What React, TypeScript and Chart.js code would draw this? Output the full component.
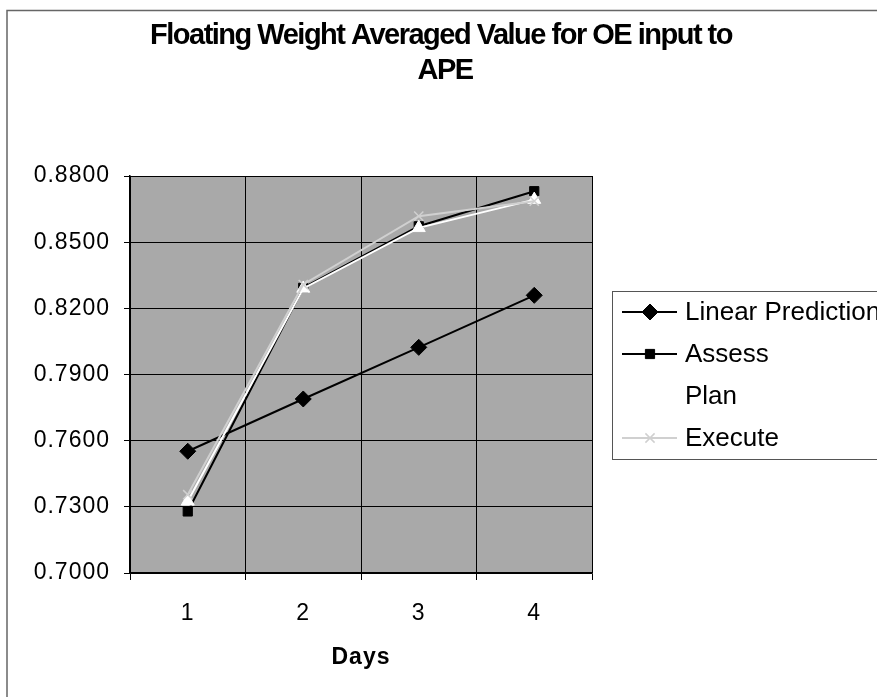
import React, { useEffect, useRef } from "react";
import { Chart, registerables } from "chart.js";
import { drawPoint } from "chart.js/helpers";

Chart.register(...registerables);

// Category labels and series values
const days = ["1", "2", "3", "4"];
const linearPrediction = [0.7552, 0.7789, 0.8023, 0.8259];
const assess = [0.7279, 0.8293, 0.8572, 0.8731];
const plan = [0.7325, 0.829, 0.8565, 0.8693];
const execute = [0.7355, 0.8308, 0.8618, 0.8686];

// Axis range and text
const yMin = 0.7;
const yMax = 0.88;
const yStep = 0.03;
const titleLines = ["Floating Weight Averaged Value for OE input to", "APE"];
const xTitle = "Days";

const FONT = "'Liberation Sans', Arial, sans-serif";
const PLOT_BG = "#a9a9a9";
const W = 877;
const H = 697;

const decor = {
  id: "decor",
  beforeDraw(chart: any) {
    const { ctx, chartArea: a } = chart;
    ctx.save();
    ctx.fillStyle = "#ffffff";
    ctx.fillRect(0, 0, chart.width, chart.height);
    ctx.fillStyle = PLOT_BG;
    ctx.fillRect(a.left, a.top, a.right - a.left, a.bottom - a.top);
    ctx.restore();
    // axis text is drawn slightly wide
    ctx.letterSpacing = "1px";
  },
  afterDraw(chart: any) {
    const ctx = chart.ctx;
    ctx.save();
    ctx.letterSpacing = "0px";

    // outer chart frame (left and top edges)
    ctx.strokeStyle = "#666666";
    ctx.lineWidth = 1.5;
    ctx.beginPath();
    ctx.moveTo(7, H);
    ctx.lineTo(7, 10.5);
    ctx.lineTo(W, 10.5);
    ctx.stroke();

    // title
    ctx.fillStyle = "#000000";
    ctx.font = `bold 29px ${FONT}`;
    ctx.letterSpacing = "-1.5px";
    ctx.textAlign = "center";
    ctx.textBaseline = "middle";
    ctx.fillText(titleLines[0], 441, 36);
    ctx.fillText(titleLines[1], 445, 71);

    // legend box
    const boxL = 612.5;
    const boxT = 291.5;
    const boxB = 459.5;
    ctx.fillStyle = "#ffffff";
    ctx.fillRect(boxL, boxT, W - boxL + 10, boxB - boxT);
    ctx.strokeStyle = "#555555";
    ctx.lineWidth = 1;
    ctx.strokeRect(boxL, boxT, W - boxL + 20, boxB - boxT);

    const datasets = chart.data.datasets;
    ctx.font = `26px ${FONT}`;
    ctx.letterSpacing = "0px";
    ctx.textAlign = "left";
    datasets.forEach((ds: any, i: number) => {
      const y = 312 + i * 42;
      ctx.strokeStyle = ds.borderColor;
      ctx.lineWidth = ds.borderWidth;
      ctx.beginPath();
      ctx.moveTo(622, y);
      ctx.lineTo(677, y);
      ctx.stroke();
      ctx.fillStyle = ds.pointBackgroundColor;
      ctx.strokeStyle = ds.pointBorderColor;
      ctx.lineWidth = ds.pointBorderWidth;
      drawPoint(
        ctx,
        { pointStyle: ds.pointStyle, radius: ds.pointRadius, rotation: 0, borderWidth: ds.pointBorderWidth },
        650,
        y
      );
      ctx.fillStyle = "#000000";
      ctx.fillText(ds.label, 685, y + 1);
    });

    ctx.restore();
  },
};

export default function App() {
  const canvasRef = useRef<HTMLCanvasElement | null>(null);

  useEffect(() => {
    const canvas = canvasRef.current;
    if (!canvas) return;
    const chart = new Chart(canvas, {
      type: "line",
      data: {
        labels: days,
        datasets: [
          {
            label: "Linear Prediction",
            data: linearPrediction,
            borderColor: "#000000",
            borderWidth: 2,
            pointStyle: "rectRot",
            pointRadius: 8,
            pointBackgroundColor: "#000000",
            pointBorderColor: "#000000",
            pointBorderWidth: 1,
            tension: 0,
            order: 4,
          },
          {
            label: "Assess",
            data: assess,
            borderColor: "#000000",
            borderWidth: 2,
            pointStyle: "rect",
            pointRadius: 6.5,
            pointBackgroundColor: "#000000",
            pointBorderColor: "#000000",
            pointBorderWidth: 1,
            tension: 0,
            order: 3,
          },
          {
            label: "Plan",
            data: plan,
            borderColor: "#ffffff",
            borderWidth: 2,
            pointStyle: "triangle",
            pointRadius: 7.5,
            pointBackgroundColor: "#ffffff",
            pointBorderColor: "#ffffff",
            pointBorderWidth: 1,
            tension: 0,
            order: 2,
          },
          {
            label: "Execute",
            data: execute,
            borderColor: "#d0d0d0",
            borderWidth: 2,
            pointStyle: "crossRot",
            pointRadius: 6.5,
            pointBackgroundColor: "#d0d0d0",
            pointBorderColor: "#d0d0d0",
            pointBorderWidth: 1.5,
            tension: 0,
            order: 1,
          },
        ],
      },
      options: {
        responsive: false,
        animation: false,
        devicePixelRatio: 1,
        layout: { padding: { left: 10, top: 176, right: W - 592, bottom: 0 } },
        plugins: {
          legend: { display: false },
          title: { display: false },
          tooltip: { enabled: false },
        },
        scales: {
          x: {
            type: "category",
            offset: true,
            afterFit: (scale: any) => {
              scale.height = H - 573;
            },
            grid: {
              offset: true,
              color: "#000000",
              lineWidth: 1,
              drawTicks: true,
              tickLength: 7,
            },
            border: { display: true, color: "#000000", width: 1.5 },
            ticks: {
              color: "#000000",
              font: { family: FONT, size: 23 },
              padding: 20,
              maxRotation: 0,
            },
            title: {
              display: true,
              text: xTitle,
              color: "#000000",
              font: { family: FONT, size: 23, weight: "bold" },
              padding: { top: 4, bottom: 26 },
            },
          },
          y: {
            min: yMin,
            max: yMax,
            afterFit: (scale: any) => {
              scale.width = 120;
            },
            grid: {
              color: "#000000",
              lineWidth: 1,
              drawTicks: true,
              tickLength: 6,
            },
            border: { display: true, color: "#000000", width: 1.5 },
            ticks: {
              stepSize: yStep,
              color: "#000000",
              font: { family: FONT, size: 23 },
              padding: 14,
              callback: (v: any) => Number(v).toFixed(4),
            },
          },
        },
      },
      plugins: [decor],
    });
    return () => chart.destroy();
  }, []);

  return (
    <div
      style={{
        position: "absolute",
        left: 0,
        top: 0,
        width: W,
        height: H,
        overflow: "hidden",
        background: "#ffffff",
      }}
    >
      <canvas ref={canvasRef} width={W} height={H} style={{ display: "block" }} />
    </div>
  );
}
